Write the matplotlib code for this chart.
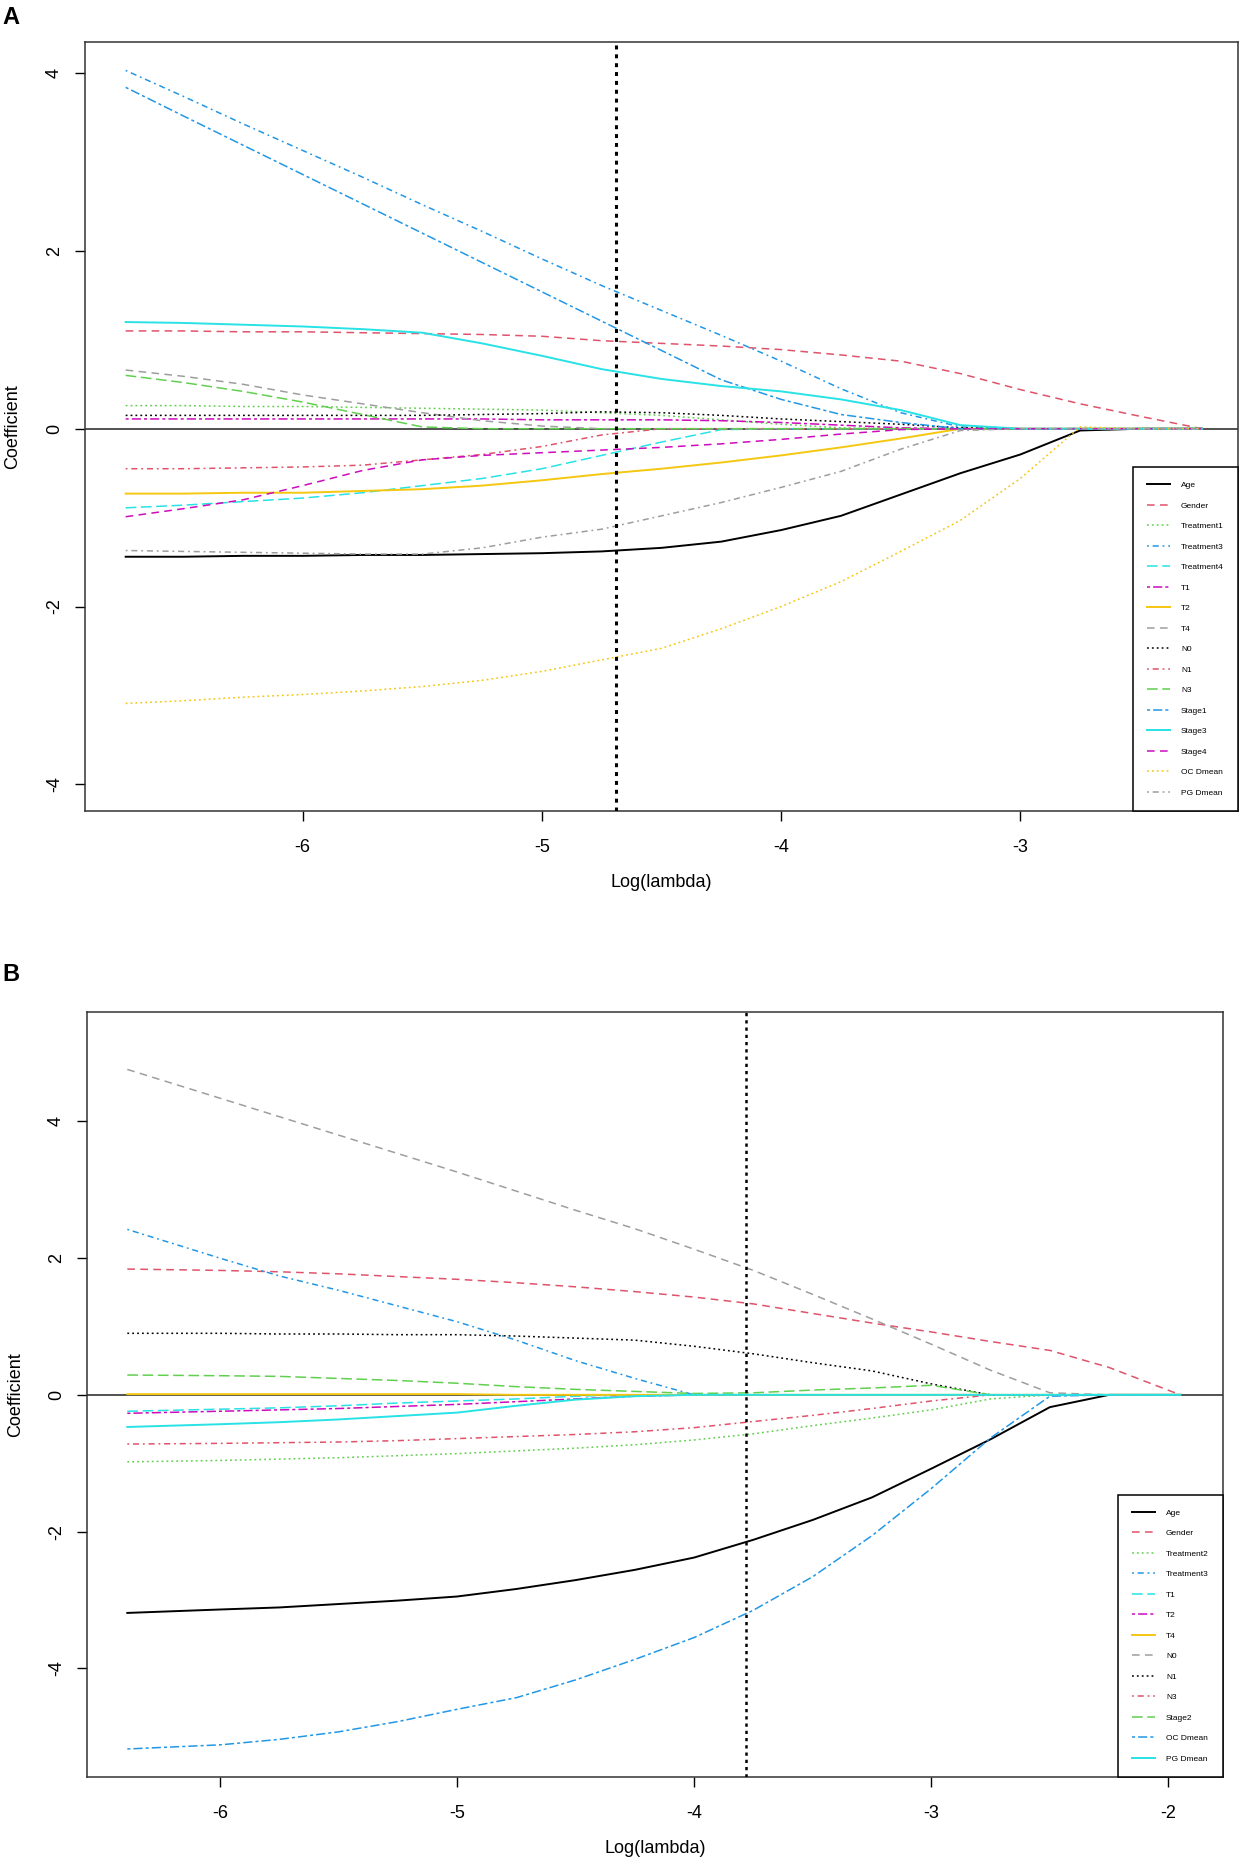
import matplotlib
matplotlib.use("Agg")
import matplotlib.pyplot as plt

plt.rcParams['font.family'] = ['Liberation Sans', 'DejaVu Sans']
plt.rcParams['axes.unicode_minus'] = False

# ---- panel A data (log lambda grid + coefficient paths) ----
lam_a = [-6.74, -6.5, -6.25, -6.0, -5.75, -5.5, -5.25, -5.0, -4.75, -4.5,
         -4.25, -4.0, -3.75, -3.5, -3.25, -3.0, -2.75, -2.5, -2.24]
names_a = ['Age', 'Gender', 'Treatment1', 'Treatment3', 'Treatment4', 'T1', 'T2', 'T4',
           'N0', 'N1', 'N3', 'Stage1', 'Stage3', 'Stage4', 'OC Dmean', 'PG Dmean']
age_a = [-1.44, -1.44, -1.43, -1.43, -1.42, -1.42, -1.41, -1.40, -1.38, -1.34, -1.27, -1.14, -0.98, -0.74, -0.50, -0.29, -0.02, 0, 0]
gender_a = [1.10, 1.10, 1.09, 1.09, 1.08, 1.07, 1.06, 1.04, 0.99, 0.96, 0.93, 0.89, 0.83, 0.76, 0.62, 0.44, 0.28, 0.14, 0.0]
treat1_a = [0.26, 0.26, 0.25, 0.25, 0.24, 0.23, 0.22, 0.21, 0.18, 0.15, 0.10, 0.05, 0.01, 0, 0, 0, 0, 0, 0]
treat3_a = [4.03, 3.74, 3.43, 3.13, 2.83, 2.52, 2.22, 1.91, 1.61, 1.33, 1.05, 0.76, 0.45, 0.18, 0.02, 0, 0, 0, 0]
treat4_a = [-0.89, -0.86, -0.82, -0.78, -0.72, -0.64, -0.56, -0.45, -0.30, -0.15, -0.01, 0, 0, 0, 0, 0, 0, 0, 0]
t1_a = [0.11, 0.11, 0.11, 0.11, 0.11, 0.11, 0.11, 0.10, 0.10, 0.10, 0.09, 0.07, 0.04, 0.01, 0, 0, 0, 0, 0]
t2_a = [-0.73, -0.73, -0.72, -0.72, -0.70, -0.68, -0.64, -0.58, -0.51, -0.45, -0.38, -0.30, -0.21, -0.11, 0, 0, 0, 0, 0]
t4_a = [0.66, 0.59, 0.50, 0.38, 0.28, 0.18, 0.09, 0.03, 0, 0, 0, 0, 0, 0, 0, 0, 0, 0, 0]
n0_a = [0.15, 0.15, 0.15, 0.15, 0.15, 0.15, 0.16, 0.17, 0.19, 0.18, 0.15, 0.11, 0.08, 0.05, 0.01, 0, 0, 0, 0]
n1_a = [-0.45, -0.45, -0.44, -0.43, -0.41, -0.35, -0.29, -0.20, -0.07, 0, 0, 0, 0, 0, 0, 0, 0, 0, 0]
n3_a = [0.60, 0.52, 0.42, 0.30, 0.16, 0.02, 0, 0, 0, 0, 0, 0, 0, 0, 0, 0, 0, 0, 0]
stage1_a = [3.84, 3.52, 3.19, 2.86, 2.53, 2.20, 1.87, 1.54, 1.21, 0.88, 0.55, 0.33, 0.16, 0.07, 0, 0, 0, 0, 0]
stage3_a = [1.20, 1.19, 1.17, 1.15, 1.12, 1.08, 0.96, 0.82, 0.67, 0.56, 0.48, 0.42, 0.33, 0.21, 0.04, 0, 0, 0, 0]
stage4_a = [-0.99, -0.90, -0.80, -0.64, -0.47, -0.35, -0.30, -0.27, -0.24, -0.21, -0.17, -0.12, -0.06, -0.01, 0, 0, 0, 0, 0]
oc_a = [-3.09, -3.06, -3.02, -2.99, -2.95, -2.90, -2.83, -2.73, -2.60, -2.47, -2.25, -2.00, -1.72, -1.38, -1.03, -0.56, 0.02, 0.0, 0.0]
pg_a = [-1.37, -1.38, -1.39, -1.40, -1.41, -1.41, -1.34, -1.22, -1.13, -0.98, -0.83, -0.66, -0.48, -0.23, -0.02, 0, 0, 0, 0]
paths_a = [age_a, gender_a, treat1_a, treat3_a, treat4_a, t1_a, t2_a, t4_a,
           n0_a, n1_a, n3_a, stage1_a, stage3_a, stage4_a, oc_a, pg_a]
cut_a = -4.69

# ---- panel B data ----
lam_b = [-6.39, -6.0, -5.75, -5.5, -5.25, -5.0, -4.75, -4.5, -4.25, -4.0,
         -3.75, -3.5, -3.25, -3.0, -2.75, -2.5, -2.25, -1.95]
names_b = ['Age', 'Gender', 'Treatment2', 'Treatment3', 'T1', 'T2', 'T4',
           'N0', 'N1', 'N3', 'Stage2', 'OC Dmean', 'PG Dmean']
age_b = [-3.19, -3.14, -3.11, -3.06, -3.01, -2.95, -2.84, -2.71, -2.56, -2.38, -2.12, -1.83, -1.50, -1.08, -0.65, -0.18, 0, 0]
gender_b = [1.84, 1.82, 1.80, 1.77, 1.73, 1.69, 1.64, 1.58, 1.51, 1.43, 1.33, 1.19, 1.05, 0.92, 0.78, 0.65, 0.40, 0]
treat2_b = [-0.98, -0.96, -0.94, -0.92, -0.89, -0.86, -0.82, -0.78, -0.73, -0.66, -0.57, -0.45, -0.34, -0.22, -0.06, 0, 0, 0]
treat3_b = [2.42, 2.00, 1.74, 1.53, 1.30, 1.07, 0.80, 0.50, 0.24, 0, 0, 0, 0, 0, 0, 0, 0, 0]
t1_b = [-0.24, -0.21, -0.19, -0.16, -0.12, -0.09, -0.06, -0.02, 0, 0, 0, 0, 0, 0, 0, 0, 0, 0]
t2_b = [-0.27, -0.24, -0.22, -0.20, -0.17, -0.14, -0.10, -0.06, -0.02, 0, 0, 0, 0, 0, 0, 0, 0, 0]
t4_b = [0.01, 0.01, 0.01, 0.01, 0.01, 0.01, 0, 0, 0, 0, 0, 0, 0, 0, 0, 0, 0, 0]
n0_b = [4.76, 4.34, 4.07, 3.80, 3.53, 3.26, 2.98, 2.70, 2.43, 2.13, 1.82, 1.47, 1.11, 0.74, 0.36, 0.03, 0, 0]
n1_b = [0.90, 0.90, 0.89, 0.89, 0.88, 0.88, 0.86, 0.83, 0.80, 0.71, 0.60, 0.47, 0.35, 0.16, 0, 0, 0, 0]
n3_b = [-0.72, -0.71, -0.70, -0.69, -0.67, -0.64, -0.61, -0.58, -0.54, -0.48, -0.39, -0.30, -0.20, -0.09, 0, 0, 0, 0]
stage2_b = [0.29, 0.28, 0.27, 0.24, 0.21, 0.17, 0.12, 0.08, 0.05, 0.02, 0.03, 0.07, 0.10, 0.14, 0, 0, 0, 0]
oc_b = [-5.18, -5.12, -5.04, -4.93, -4.78, -4.60, -4.43, -4.17, -3.87, -3.55, -3.15, -2.66, -2.06, -1.37, -0.63, -0.02, 0, 0]
pg_b = [-0.47, -0.43, -0.40, -0.36, -0.31, -0.26, -0.16, -0.07, -0.02, 0, 0, 0, 0, 0, 0, 0, 0, 0]
paths_b = [age_b, gender_b, treat2_b, treat3_b, t1_b, t2_b, t4_b,
           n0_b, n1_b, n3_b, stage2_b, oc_b, pg_b]
cut_b = -3.78

# R palette and line types, cycled like matplot()
colours = ['#000000', '#DF536B', '#61D04F', '#2297E6', '#28E2E5', '#CD0BBC', '#F5C710', '#9E9E9E']
ltys = ['-', (0, (5, 3.5)), (0, (1.2, 2)), (0, (1.2, 2.5, 4, 2.5)), (0, (7, 3)), (0, (2, 2, 6, 2))]


def draw_panel(ax, lam, paths, names, cut, xlim, ylim, xticks, cut_lw):
    ax.axhline(0, color='#222222', lw=1.1, zorder=1)
    for i, (ys, name) in enumerate(zip(paths, names)):
        ls = ltys[i % 6]
        ax.plot(lam, ys, color=colours[i % 8], linestyle=ls,
                lw=1.4 if ls == '-' else 1.1, label=name, zorder=2)
    ax.axvline(cut, color='black', lw=cut_lw, linestyle=(0, (1.3, 1.6)), zorder=3)
    ax.set_xlim(xlim)
    ax.set_ylim(ylim)
    ax.set_xticks(xticks)
    ax.set_yticks([-4, -2, 0, 2, 4])
    ax.tick_params(axis='both', direction='out', length=7, width=1, labelsize=13)
    ax.tick_params(axis='x', pad=13)
    ax.tick_params(axis='y', pad=9)
    for lab in ax.get_yticklabels():
        lab.set_rotation(90)
        lab.set_va('center')
    for s in ax.spines.values():
        s.set_linewidth(1.1)
        s.set_color('#333333')
    ax.set_xlabel('Log(lambda)', fontsize=13)
    ax.set_ylabel('Coefficient', fontsize=13)
    ax.xaxis.set_label_coords(0.5, -0.082)
    ax.yaxis.set_label_coords(-0.055, 0.5)
    leg = ax.legend(loc='lower right', bbox_to_anchor=(1, 0), borderaxespad=0,
                    fontsize=6, frameon=True, fancybox=False, framealpha=1,
                    edgecolor='black', borderpad=1.7, labelspacing=1.52,
                    handlelength=2.8, handletextpad=1.3)
    leg.get_frame().set_linewidth(1.1)


fig = plt.figure(figsize=(12.41, 18.61), dpi=100)
ax_a = fig.add_axes([85 / 1241, 1 - 811 / 1861, 1153 / 1241, 769 / 1861])
ax_b = fig.add_axes([87 / 1241, 1 - 1777 / 1861, 1136 / 1241, 765 / 1861])

draw_panel(ax_a, lam_a, paths_a, names_a, cut_a, (-6.91, -2.09), (-4.30, 4.35),
           [-6, -5, -4, -3], 2.2)
draw_panel(ax_b, lam_b, paths_b, names_b, cut_b, (-6.56, -1.77), (-5.59, 5.60),
           [-6, -5, -4, -3, -2], 1.8)

fig.text(0.002, 1 - 6 / 1861, 'A', fontsize=17, fontweight='bold', va='top', ha='left')
fig.text(0.002, 1 - 963 / 1861, 'B', fontsize=17, fontweight='bold', va='top', ha='left')

fig.savefig('out.png', dpi=100)
